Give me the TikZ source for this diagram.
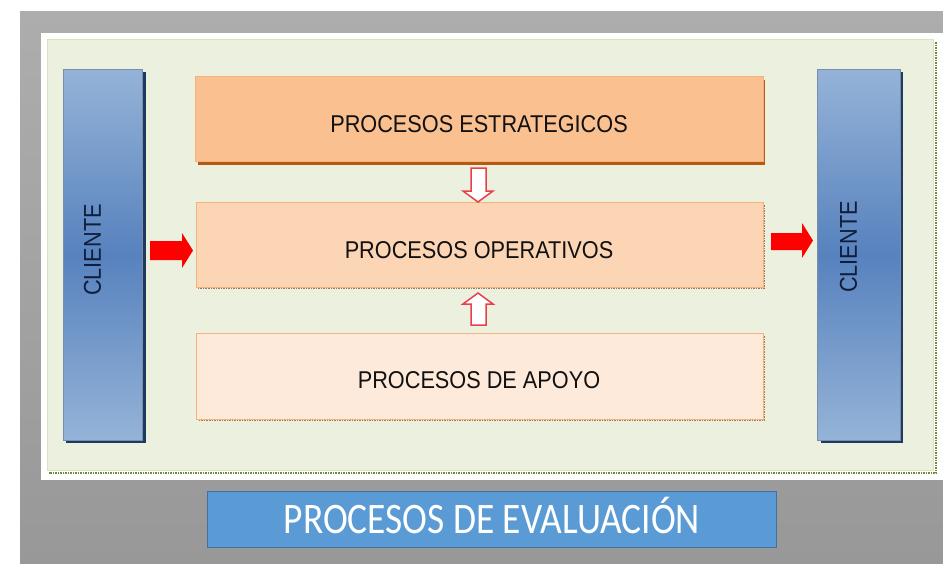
\documentclass[tikz,border=0pt]{standalone}
\usepackage{fontspec}
\setmainfont{Liberation Sans}
\newfontfamily\evalfont{Carlito}
\usetikzlibrary{calc}
\definecolor{bgtop}{HTML}{ADADAD}
\definecolor{bgbot}{HTML}{989898}
\definecolor{panelfill}{HTML}{EBF1DE}
\definecolor{panelline}{HTML}{D7E4BD}
\definecolor{paneldot}{HTML}{6E8A3A}
\definecolor{clilight}{HTML}{95B3D7}
\definecolor{clidark}{HTML}{5782BE}
\definecolor{clishadow}{HTML}{1F3A60}
\definecolor{estfill}{HTML}{FAC090}
\definecolor{estshadow}{HTML}{B65A12}
\definecolor{opfill}{HTML}{FCD5B5}
\definecolor{apfill}{HTML}{FDEADA}
\definecolor{boxline}{HTML}{F5B27A}
\definecolor{boxdot}{HTML}{9A7A5A}
\definecolor{evalfill}{HTML}{5B9BD5}
\definecolor{evalline}{HTML}{41719C}
\definecolor{txt}{HTML}{111111}
\definecolor{clitxt}{HTML}{0F1E3C}
\definecolor{arrred}{HTML}{FF0000}
\definecolor{hollowred}{HTML}{E8404A}
\tikzset{
  x=1pt, y=-1pt,
  bodytext/.style={font=\fontsize{21.7}{24}\selectfont, text=txt, inner sep=0pt},
  clitext/.style={font=\fontsize{21.7}{24}\selectfont, text=clitxt, inner sep=0pt, rotate=90},
  procbox/.style={draw=boxline, line width=0.6pt},
  clibar/.style={draw=clilight!80!black, line width=0.5pt, top color=clilight, bottom color=clilight, middle color=clidark},
  redarrow/.style={fill=arrred, draw=none},
  hollowarrow/.style={fill=white, draw=hollowred, line width=1.5pt, line join=miter},
  dotline/.style={line width=2pt, dash pattern=on 1.5pt off 1pt}
}
\begin{document}
\begin{tikzpicture}
\useasboundingbox (0,0) rectangle (943,563);
\fill[white] (0,0) rectangle (943,563);
% gray background
\shade[top color=bgtop, bottom color=bgbot] (20,11) rectangle (943,563);
% white panel
\fill[white] (41,33) rectangle (943,480);
% green panel
\draw[dotline, paneldot] (936,42) -- (936,473) -- (49,473);
\draw[fill=panelfill, draw=panelline, line width=1pt] (47,39) rectangle (933,470);

% client bars
\fill[clishadow] (66,72) rectangle (146,443);
\draw[clibar] (63,69) rectangle (142,440);
\node[clitext] (cli1) at (92.5,250) {\scalebox{1}[1.12]{CLIENTE}};
\fill[clishadow] (821,72) rectangle (903,443);
\draw[clibar] (817,69) rectangle (900,440);
\node[clitext] (cli2) at (848.5,247) {\scalebox{1}[1.12]{CLIENTE}};

% estrategicos
\fill[estshadow] (198,80) rectangle (765,165);
\draw[procbox, fill=estfill] (195,76) rectangle (763,161);
\node[bodytext] (est) at (479,124) {\scalebox{1}[1.12]{PROCESOS ESTRATEGICOS}};

% operativos
\draw[dotline, boxdot, line width=1.6pt] (764,205) -- (764,288) -- (198,288);
\draw[procbox, fill=opfill] (196,202) rectangle (763,287);
\node[bodytext] (op) at (479,250) {\scalebox{1}[1.12]{PROCESOS OPERATIVOS}};

% apoyo
\draw[dotline, boxdot!80!orange, line width=1.6pt] (764,336) -- (764,420) -- (198,420);
\draw[procbox, fill=apfill] (196,333) rectangle (763,419);
\node[bodytext] (ap) at (479,380) {\scalebox{1}[1.12]{PROCESOS DE APOYO}};

% hollow arrows
\draw[hollowarrow] (471,168) -- (486,168) -- (486,191) -- (493,191) -- (478,202) -- (463,191) -- (471,191) -- cycle;
\draw[hollowarrow] (471,325) -- (486,325) -- (486,304) -- (493,304) -- (478,293) -- (463,304) -- (471,304) -- cycle;

% red arrows
\fill[redarrow] (150,241) -- (182,241) -- (182,233) -- (193,250.5) -- (182,268) -- (182,260) -- (150,260) -- cycle;
\fill[redarrow] (771,233) -- (802,233) -- (802,223) -- (813,240.5) -- (802,258) -- (802,250) -- (771,250) -- cycle;

% evaluacion
\draw[fill=evalfill, draw=evalline, line width=1pt] (207,491) rectangle (776,547);
\node[font=\evalfont\fontsize{43.5}{48}\selectfont, text=white, inner sep=0pt, anchor=base] (ev) at (492,533) {\scalebox{0.86}[1]{PROCESOS DE EVALUACIÓN}};
\end{tikzpicture}
\end{document}
